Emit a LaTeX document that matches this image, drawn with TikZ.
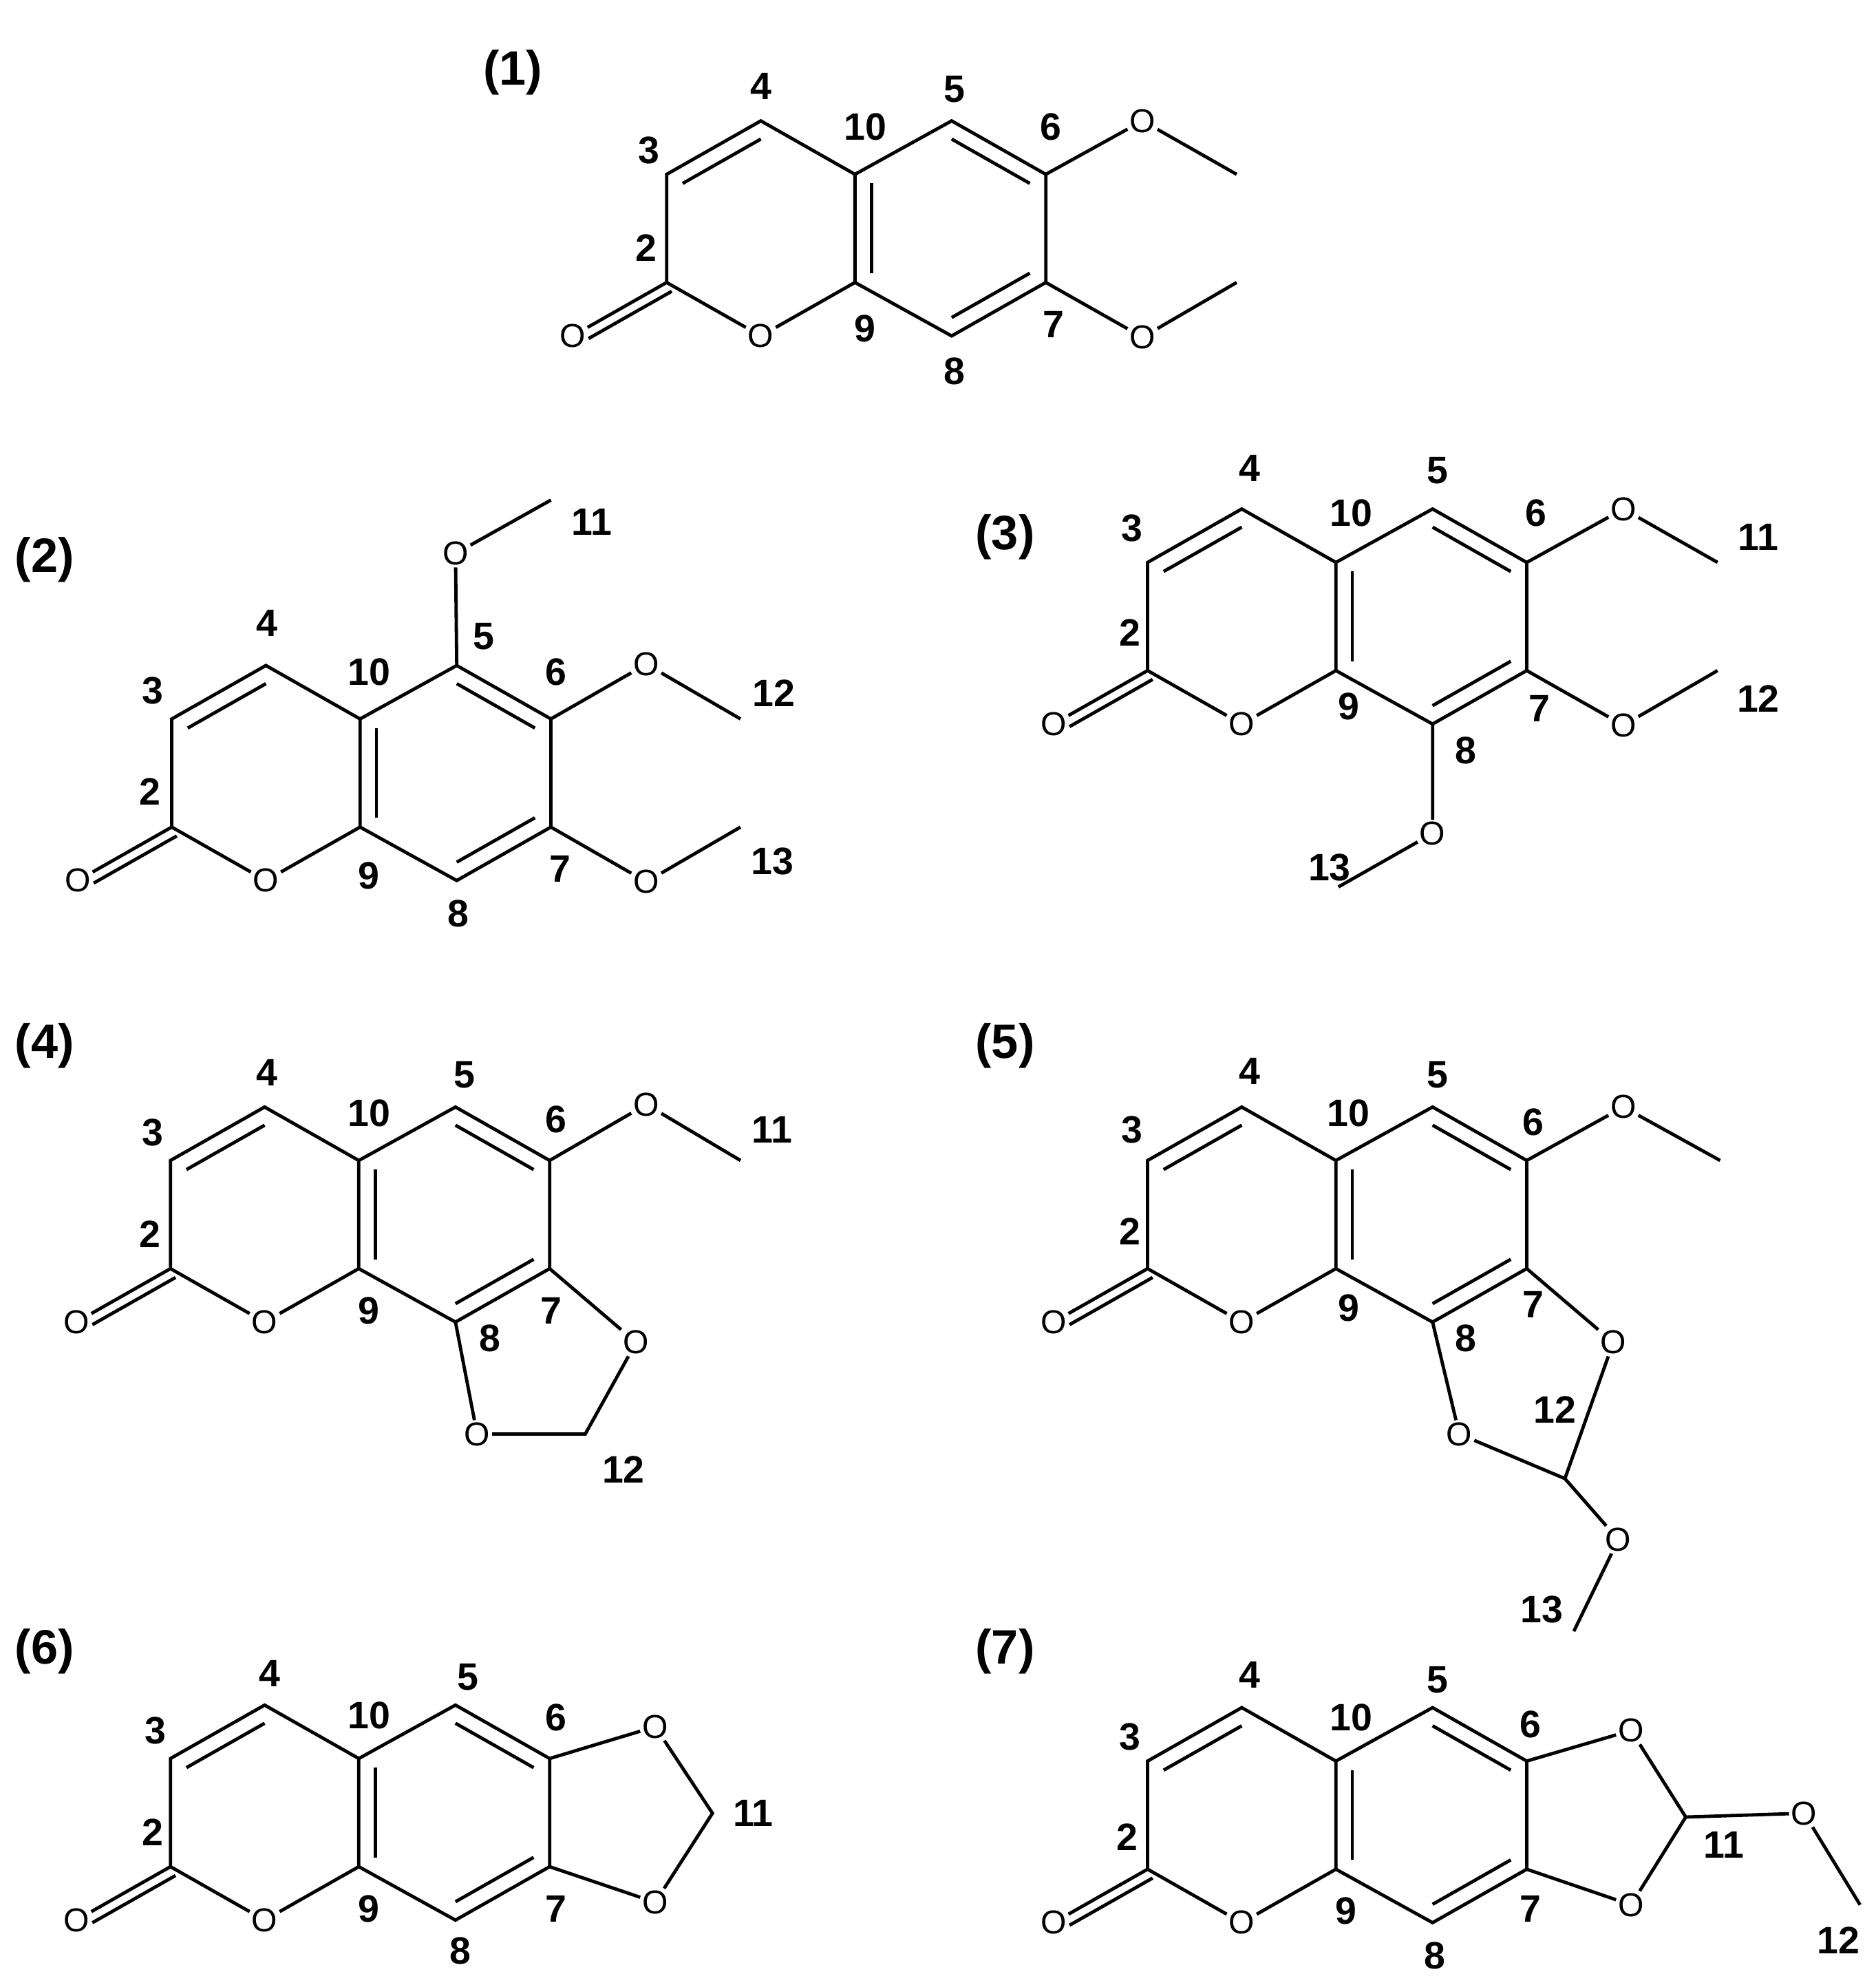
\documentclass[tikz,border=0pt]{standalone}
\usepackage{fontspec}
\setmainfont{Liberation Sans}
\usetikzlibrary{calc}
\tikzset{
  bond/.style={line width=2.6pt},
  atom/.style={inner sep=1.5pt,font=\fontsize{26}{28}\selectfont},
  num/.style={inner sep=0pt,font=\bfseries\fontsize{30}{32}\selectfont},
  ttl/.style={inner sep=0pt,font=\bfseries\fontsize{38}{40}\selectfont},
}
\newcommand\coum[3]{%
  \begin{scope}[shift={(#2,#3)}]
    \coordinate (#1c10) at (0,0);
    \coordinate (#1c4) at (-74,-42);
    \coordinate (#1c3) at (-148,0);
    \coordinate (#1c2) at (-148,85);
    \node[atom] (#1o1) at (-74,127) {O};
    \coordinate (#1c9) at (0,85);
    \coordinate (#1c5) at (76,-42);
    \coordinate (#1c6) at (150,0);
    \coordinate (#1c7) at (150,85);
    \coordinate (#1c8) at (76,127);
    \node[atom] (#1oc) at (-222,127) {O};
    \coordinate (#1pc) at (-74,42);
    \coordinate (#1bc) at (76,42);
  \end{scope}
  \draw[bond] (#1c9) -- (#1c10) -- (#1c4) -- (#1c3) -- (#1c2) -- (#1o1) -- (#1c9) -- (#1c8) -- (#1c7) -- (#1c6) -- (#1c5) -- (#1c10);
  \draw[bond] (#1c2) -- (#1oc);
  \draw[bond,shorten >=10pt] ($(#1c2)!8pt!90:(#1oc)$) -- ($(#1oc)!8pt!-90:(#1c2)$);
  \draw[bond] ($(#1c3)!0.17!(#1pc)$) -- ($(#1c4)!0.17!(#1pc)$);
  \draw[bond] ($(#1c9)!0.17!(#1bc)$) -- ($(#1c10)!0.17!(#1bc)$);
  \draw[bond] ($(#1c5)!0.17!(#1bc)$) -- ($(#1c6)!0.17!(#1bc)$);
  \draw[bond] ($(#1c7)!0.17!(#1bc)$) -- ($(#1c8)!0.17!(#1bc)$);
}
\begin{document}
\begin{tikzpicture}[x=1pt,y=-1pt]
\useasboundingbox[fill=white] (0,0) rectangle (1474,1560);
% ---------- (1)
\coum{a}{672}{137}
\node[atom] (ao6) at (898,95) {O};
\coordinate (am6) at (972,137);
\node[atom] (ao7) at (898,265) {O};
\coordinate (am7) at (972,222);
\draw[bond] (ac6) -- (ao6) -- (am6);
\draw[bond] (ac7) -- (ao7) -- (am7);
\node[ttl] (t1) at (403,57) {(1)};
\node[num] (a4) at (598,68) {4};
\node[num] (a3) at (510,118) {3};
\node[num] (a2) at (508,195) {2};
\node[num] (a10) at (680,100) {10};
\node[num] (a5) at (750,70) {5};
\node[num] (a6) at (826,100) {6};
\node[num] (a7) at (828,255) {7};
\node[num] (a9) at (680,258) {9};
\node[num] (a8) at (750,292) {8};
% ---------- (2)
\coum{b}{283}{565}
\node[atom] (bo5) at (358,435) {O};
\coordinate (bm5) at (433,393);
\node[atom] (bo6) at (508,522) {O};
\coordinate (bm6) at (582,565);
\node[atom] (bo7) at (508,693) {O};
\coordinate (bm7) at (582,650);
\draw[bond] (bc5) -- (bo5) -- (bm5);
\draw[bond] (bc6) -- (bo6) -- (bm6);
\draw[bond] (bc7) -- (bo7) -- (bm7);
\node[ttl] (t2) at (35,440) {(2)};
\node[num] (b4) at (210,490) {4};
\node[num] (b3) at (120,543) {3};
\node[num] (b2) at (118,622) {2};
\node[num] (b10) at (290,528) {10};
\node[num] (b5) at (380,500) {5};
\node[num] (b6) at (437,528) {6};
\node[num] (b7) at (440,683) {7};
\node[num] (b9) at (290,688) {9};
\node[num] (b8) at (360,718) {8};
\node[num] (b11) at (465,410) {11};
\node[num] (b12) at (608,545) {12};
\node[num] (b13) at (607,677) {13};
% ---------- (3)
\coum{c}{1050}{442}
\node[atom] (co6) at (1276,400) {O};
\coordinate (cm6) at (1350,442);
\node[atom] (co7) at (1276,570) {O};
\coordinate (cm7) at (1350,527);
\node[atom] (co8) at (1126,655) {O};
\coordinate (cm8) at (1052,697);
\draw[bond] (cc6) -- (co6) -- (cm6);
\draw[bond] (cc7) -- (co7) -- (cm7);
\draw[bond] (cc8) -- (co8) -- (cm8);
\node[ttl] (t3) at (790,422) {(3)};
\node[num] (c4) at (982,368) {4};
\node[num] (c3) at (890,415) {3};
\node[num] (c2) at (888,497) {2};
\node[num] (c10) at (1062,403) {10};
\node[num] (c5) at (1130,370) {5};
\node[num] (c6) at (1207,403) {6};
\node[num] (c7) at (1210,557) {7};
\node[num] (c9) at (1060,555) {9};
\node[num] (c8) at (1152,590) {8};
\node[num] (c11) at (1382,422) {11};
\node[num] (c12) at (1382,549) {12};
\node[num] (c13) at (1045,682) {13};
% ---------- (4)
\coum{d}{282}{912}
\node[atom] (do6) at (508,868) {O};
\coordinate (dm6) at (582,912);
\node[atom] (do7) at (500,1055) {O};
\node[atom] (do8) at (375,1127) {O};
\coordinate (dc12) at (460,1127);
\draw[bond] (dc6) -- (do6) -- (dm6);
\draw[bond] (dc7) -- (do7) -- (dc12) -- (do8) -- (dc8);
\node[ttl] (t4) at (35,822) {(4)};
\node[num] (d4) at (210,843) {4};
\node[num] (d3) at (120,890) {3};
\node[num] (d2) at (118,970) {2};
\node[num] (d10) at (290,875) {10};
\node[num] (d5) at (365,845) {5};
\node[num] (d6) at (437,880) {6};
\node[num] (d7) at (433,1030) {7};
\node[num] (d9) at (290,1030) {9};
\node[num] (d8) at (385,1052) {8};
\node[num] (d11) at (607,888) {11};
\node[num] (d12) at (490,1155) {12};
% ---------- (5)
\coum{e}{1050}{912}
\node[atom] (eo6) at (1276,870) {O};
\coordinate (em6) at (1352,912);
\node[atom] (eo7) at (1268,1055) {O};
\node[atom] (eo8) at (1147,1127) {O};
\coordinate (ec12) at (1230,1162);
\node[atom] (eo12) at (1272,1210) {O};
\coordinate (em12) at (1237,1282);
\draw[bond] (ec6) -- (eo6) -- (em6);
\draw[bond] (ec7) -- (eo7) -- (ec12) -- (eo8) -- (ec8);
\draw[bond] (ec12) -- (eo12) -- (em12);
\node[ttl] (t5) at (790,822) {(5)};
\node[num] (e4) at (982,842) {4};
\node[num] (e3) at (890,888) {3};
\node[num] (e2) at (888,968) {2};
\node[num] (e10) at (1060,875) {10};
\node[num] (e5) at (1130,845) {5};
\node[num] (e6) at (1205,882) {6};
\node[num] (e7) at (1205,1025) {7};
\node[num] (e9) at (1060,1028) {9};
\node[num] (e8) at (1152,1052) {8};
\node[num] (e12) at (1222,1108) {12};
\node[num] (e13) at (1212,1265) {13};
% ---------- (6)
\coum{f}{282}{1382}
\node[atom] (fo6) at (515,1357) {O};
\node[atom] (fo7) at (515,1495) {O};
\coordinate (fc11) at (560,1425);
\draw[bond] (fc6) -- (fo6) -- (fc11) -- (fo7) -- (fc7);
\node[ttl] (t6) at (35,1298) {(6)};
\node[num] (f4) at (212,1315) {4};
\node[num] (f3) at (122,1360) {3};
\node[num] (f2) at (120,1440) {2};
\node[num] (f10) at (290,1348) {10};
\node[num] (f5) at (368,1318) {5};
\node[num] (f6) at (437,1350) {6};
\node[num] (f7) at (437,1500) {7};
\node[num] (f9) at (290,1500) {9};
\node[num] (f8) at (362,1533) {8};
\node[num] (f11) at (592,1425) {11};
% ---------- (7)
\coum{g}{1050}{1384}
\node[atom] (go6) at (1282,1360) {O};
\node[atom] (go7) at (1282,1497) {O};
\coordinate (gc11) at (1325,1428);
\node[atom] (go11) at (1418,1425) {O};
\coordinate (gm11) at (1462,1497);
\draw[bond] (gc6) -- (go6) -- (gc11) -- (go7) -- (gc7);
\draw[bond] (gc11) -- (go11) -- (gm11);
\node[ttl] (t7) at (790,1298) {(7)};
\node[num] (g4) at (982,1316) {4};
\node[num] (g3) at (888,1365) {3};
\node[num] (g2) at (886,1444) {2};
\node[num] (g10) at (1062,1350) {10};
\node[num] (g5) at (1130,1320) {5};
\node[num] (g6) at (1203,1355) {6};
\node[num] (g7) at (1203,1500) {7};
\node[num] (g9) at (1058,1502) {9};
\node[num] (g8) at (1128,1537) {8};
\node[num] (g11) at (1355,1450) {11};
\node[num] (g12) at (1445,1525) {12};
\end{tikzpicture}
\end{document}
